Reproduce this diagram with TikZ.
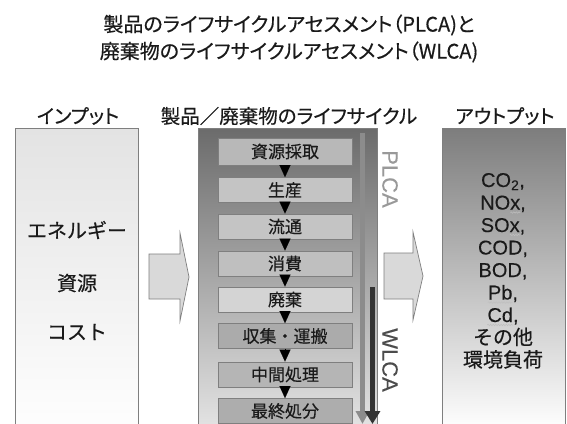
\documentclass[tikz,border=0pt]{standalone}
\usepackage{fontspec}
\setmainfont{Noto Sans CJK JP}[FakeBold=0.4, RawFeature=+palt]
\newfontfamily\jpfull{Noto Sans CJK JP}[FakeBold=0.4]
\newfontfamily\lat{Liberation Sans}[FakeBold=0.2]
\usetikzlibrary{arrows.meta,calc,decorations.pathmorphing}
\definecolor{txt}{HTML}{1A1A1A}
\definecolor{edge}{HTML}{7F7F7F}
\definecolor{arrowfill}{HTML}{D9D9D9}
\definecolor{plcagray}{HTML}{8C8C8C}
\definecolor{wlcagray}{HTML}{333333}
\tikzset{
  title/.style={font=\fontsize{20}{22}\selectfont, text=txt, inner sep=0pt},
  colhead/.style={font=\fontsize{19.5}{22}\selectfont, text=txt, inner sep=0pt},
  intext/.style={font=\jpfull\fontsize{20}{22}\selectfont, text=txt, inner sep=0pt},
  outtext/.style={font=\jpfull\fontsize{20}{22}\selectfont, text=txt, inner sep=0pt, anchor=base},
  stepbox/.style={draw=edge, line width=0.8pt, minimum width=134pt, minimum height=25pt,
    inner sep=0pt, font=\jpfull\fontsize{17}{19}\selectfont, text=txt},
  stepflow/.style={-{Triangle[length=12pt,width=11pt]}, line width=0.1pt, black},
  blockarrow/.style={fill=arrowfill, draw=edge, line width=0.7pt},
  panel/.style={draw=edge, line width=0.9pt},
  cyclelabel/.style={font=\lat\fontsize{22}{24}\selectfont, rotate=-90, inner sep=0pt},
  squiggle/.style={draw=gray!50, line width=0.5pt, decorate,
    decoration={snake, amplitude=0.7pt, segment length=2.6pt}}
}
\begin{document}
\begin{tikzpicture}[x=1pt,y=-1pt]
\useasboundingbox (0,0) rectangle (567,423);
\fill[white] (0,0) rectangle (567,423);
\begin{scope}
\clip (0,0) rectangle (567,423);
% titles
\node[title] (t1) at (289,25) {製品のライフサイクルアセスメント（PLCA)と};
\node[title] (t2) at (289,52) {廃棄物のライフサイクルアセスメント（WLCA)};
% column heads
\node[colhead] (h1) at (78,116) {インプット};
\node[colhead] (h2) at (289,116) {製品／廃棄物のライフサイクル};
\node[colhead] (h3) at (505,116) {アウトプット};
% panels
\path[panel, top color=black!11, bottom color=white] (15,128) rectangle (138,440);
\path[panel, top color=black!58, bottom color=black!9] (198,128) rectangle (377,440);
\path[panel, top color=black!51, bottom color=white] (442,128) rectangle (565,430);
% input texts
\node[intext] (i1) at (77,230) {エネルギー};
\node[intext] (i2) at (77,283) {資源};
\node[intext] (i3) at (77,332) {コスト};
% block arrows
\draw[blockarrow] (149,254) -- (180,254) -- (180,233) -- (189,277) -- (180,321) -- (180,299) -- (149,299) -- cycle;
\draw[blockarrow] (384,253) -- (413,253) -- (413,232) -- (423,276) -- (413,320) -- (413,299) -- (384,299) -- cycle;
% step boxes
\node[stepbox, fill=black!28, minimum height=27pt] (s1) at (285,151.5) {資源採取};
\node[stepbox, fill=black!23] (s2) at (285,190) {生産};
\node[stepbox, fill=black!23] (s3) at (285,226.5) {流通};
\node[stepbox, fill=black!25] (s4) at (285,263.5) {消費};
\node[stepbox, fill=black!17] (s5) at (285,299.5) {廃棄};
\node[stepbox, fill=black!33] (s6) at (285,336) {収集・運搬};
\node[stepbox, fill=black!29] (s7) at (285,374.5) {中間処理};
\node[stepbox, fill=black!32] (s8) at (285,411) {最終処分};
\foreach \a/\b in {s1/s2,s2/s3,s3/s4,s4/s5,s5/s6,s6/s7,s7/s8}
  \draw[stepflow] (\a.south) -- (\b.north);
% cycle arrows
\coordinate (pa) at (362.5,133);
\coordinate (pb) at (362.5,424);
\coordinate (wa) at (372.5,287);
\coordinate (wb) at (372.5,424);
\draw[plcagray, line width=5pt, -{Triangle[length=13pt,width=13pt]}] (pa) -- (pb);
\draw[wlcagray, line width=5pt, -{Triangle[length=13pt,width=15pt]}] (wa) -- (wb);
\node[cyclelabel, text=black!40] (pl) at (390,179) {PLCA};
\node[cyclelabel, text=black!70] (wl) at (390,360) {WLCA};
% output texts
\node[outtext] (o1) at (503,187) {\lat CO\textsubscript{2},};
\node[outtext] (o2) at (503,209.5) {\lat NOx,};
\node[outtext] (o3) at (503,232) {\lat SOx,};
\node[outtext] (o4) at (503,254.5) {\lat COD,};
\node[outtext] (o5) at (503,277) {\lat BOD,};
\node[outtext] (o6) at (503,299.5) {\lat Pb,};
\node[outtext] (o7) at (503,322) {\lat Cd,};
\node[outtext] (o8) at (503,344.5) {その他};
\node[outtext] (o9) at (503,367) {環境負荷};
% spelling squiggles
\draw[squiggle] ($(o2.base east)+(-15.6,3)$) -- ($(o2.base east)+(-5.6,3)$);
\draw[squiggle] ($(o3.base east)+(-15.6,3)$) -- ($(o3.base east)+(-5.6,3)$);
\draw[squiggle] ($(o6.base west)+(0,3)$) -- ($(o6.base east)+(-5.6,3)$);
\draw[squiggle] ($(o7.base west)+(0,3)$) -- ($(o7.base east)+(-5.6,3)$);
\end{scope}
\end{tikzpicture}
\end{document}
